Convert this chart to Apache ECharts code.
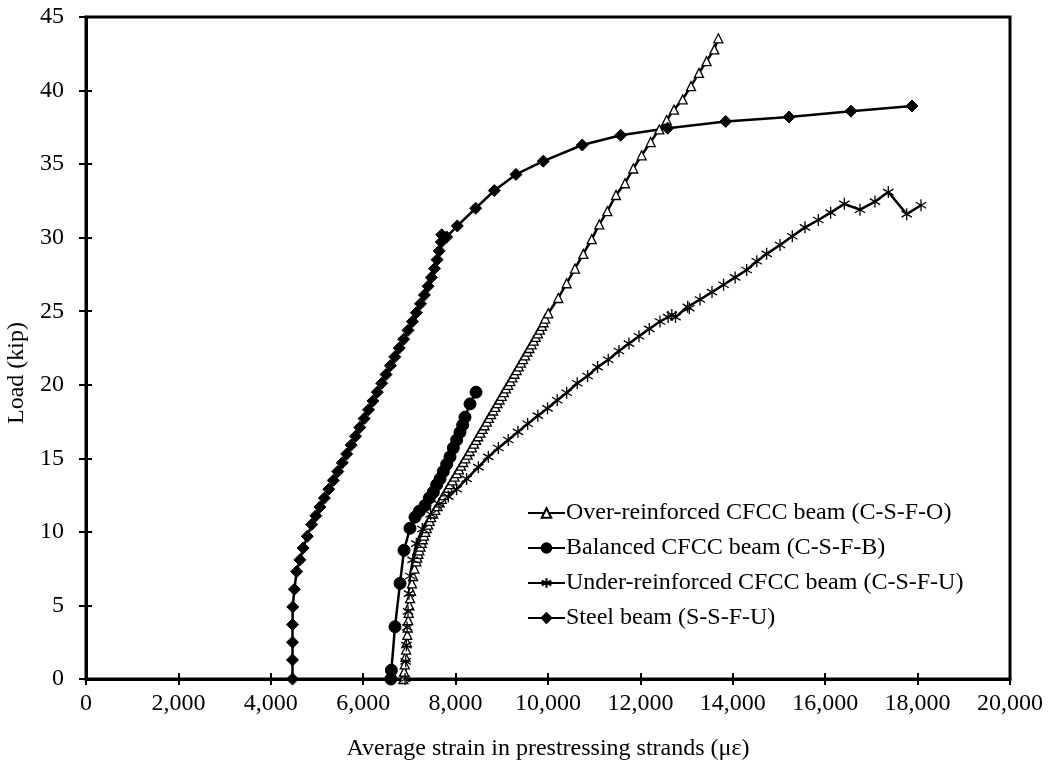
<!DOCTYPE html>
<html>
<head>
<meta charset="utf-8">
<script src="https://cdn.jsdelivr.net/npm/echarts@6/dist/echarts.min.js"></script>
<style>
  html, body { margin: 0; padding: 0; background: #fff; }
  #chart { width: 1050px; height: 766px; }
</style>
</head>
<body>
<div id="chart"></div>
<script>
// Load vs. average strain in prestressing strands, [strain (με), load (kip)]
const overReinforced = [
  [6870,0],[6885,0.5],[6900,1.0],[6915,1.5],[6930,2.0],[6945,2.5],[6955,3.0],[6965,3.5],
  [6975,4.0],[6985,4.5],[7000,5.0],[7015,5.5],[7035,6.0],[7055,6.5],[7080,7.0],[7110,7.5],
  [7150,8.0],[7170,8.25],[7195,8.5],[7215,8.75],[7240,9.0],[7265,9.25],[7290,9.5],[7315,9.75],
  [7345,10.0],[7375,10.25],[7405,10.5],[7438,10.75],[7470,11.0],[7515,11.25],[7560,11.5],[7610,11.75],
  [7655,12.0],[7700,12.25],[7745,12.5],[7790,12.75],[7838,13.0],[7885,13.25],[7930,13.5],[7978,13.75],
  [8025,14.0],[8072,14.25],[8118,14.5],[8165,14.75],[8212,15.0],[8260,15.25],[8305,15.5],[8352,15.75],
  [8398,16.0],[8445,16.25],[8490,16.5],[8535,16.75],[8582,17.0],[8628,17.25],[8675,17.5],[8720,17.75],
  [8768,18.0],[8815,18.25],[8860,18.5],[8905,18.75],[8952,19.0],[8998,19.25],[9045,19.5],[9090,19.75],
  [9138,20.0],[9185,20.25],[9230,20.5],[9275,20.75],[9322,21.0],[9368,21.25],[9415,21.5],[9460,21.75],
  [9505,22.0],[9552,22.25],[9598,22.5],[9645,22.75],[9690,23.0],[9735,23.25],[9780,23.5],[9825,23.75],
  [9870,24.0],[9905,24.25],[9940,24.5],[10006,24.86],[10223,25.9],[10404,26.9],[10584,27.9],[10764,28.9],
  [10946,29.9],[11110,30.9],[11284,31.8],[11472,32.9],[11667,33.7],[11846,34.7],[12027,35.6],
  [12222,36.5],[12409,37.36],[12568,38.0],[12727,38.7],[12915,39.4],[13095,40.3],[13268,41.2],
  [13433,42.0],[13600,42.8],[13686,43.55]
];
const balanced = [
  [6600,0],[6610,0.6],[6688,3.55],[6797,6.5],[6883,8.75],[7013,10.25],[7121,11.0],[7215,11.4],
  [7338,11.8],[7431,12.3],[7518,12.7],[7590,13.2],[7662,13.6],[7734,14.1],[7807,14.6],[7879,15.1],
  [7950,15.7],[8023,16.25],[8095,16.77],[8153,17.27],[8203,17.8],[8312,18.7],[8442,19.5]
];
const underReinforced = [
  [6905,0],[6920,1.2],[6935,2.3],[6950,3.5],[6970,4.6],[6990,5.8],[7020,7.0],[7070,8.1],
  [7150,9.2],[7280,10.2],[7460,11.2],[7640,11.9],[7843,12.4],[8023,12.9],[8239,13.6],[8492,14.4],
  [8708,15.1],[8925,15.7],[9140,16.25],[9350,16.8],[9560,17.35],[9780,17.9],[9990,18.4],[10200,18.95],
  [10404,19.46],[10633,20.1],[10857,20.6],[11073,21.2],[11304,21.7],[11536,22.3],[11752,22.8],
  [11969,23.3],[12192,23.8],[12424,24.3],[12600,24.6],[12680,24.75],[12760,24.6],[13023,25.3],
  [13060,25.2],[13290,25.8],[13550,26.3],[13800,26.8],[14050,27.3],[14300,27.8],[14520,28.4],
  [14733,28.9],[15022,29.5],[15288,30.1],[15563,30.7],[15851,31.2],[16118,31.7],[16414,32.3],
  [16753,31.9],[17077,32.45],[17366,33.1],[17764,31.6],[18074,32.2]
];
const steel = [
  [4470,0],[4470,1.3],[4470,2.5],[4470,3.7],[4475,4.9],[4510,6.1],[4560,7.3],[4630,8.1],
  [4700,8.9],[4790,9.7],[4885,10.5],[4975,11.1],[5065,11.7],[5160,12.3],[5255,12.9],[5353,13.5],
  [5450,14.1],[5547,14.7],[5643,15.3],[5740,15.9],[5835,16.5],[5925,17.1],[6020,17.7],[6115,18.3],
  [6210,18.9],[6305,19.5],[6400,20.1],[6495,20.7],[6590,21.3],[6685,21.9],[6780,22.5],[6875,23.1],
  [6970,23.7],[7065,24.3],[7150,24.9],[7240,25.5],[7325,26.1],[7405,26.7],[7475,27.3],[7545,27.9],
  [7600,28.5],[7645,29.1],[7690,29.7],[7700,30.2],[7807,30.05],[8037,30.8],[8434,32.0],[8838,33.2],
  [9307,34.3],[9898,35.2],[10742,36.3],[11572,36.96],[12590,37.44],[13846,37.9],[15217,38.2],
  [16558,38.6],[17879,38.95]
];

const seriesNames = [
  'Over-reinforced CFCC beam (C-S-F-O)',
  'Balanced CFCC beam (C-S-F-B)',
  'Under-reinforced CFCC beam (C-S-F-U)',
  'Steel beam (S-S-F-U)'
];
const xTitle = 'Average strain in prestressing strands (με)';
const yTitle = 'Load (kip)';

const FONT = '"Liberation Serif", "Times New Roman", serif';
const FS = 24;
const asteriskPath = 'path://M5,0L5,10M0.67,2.5L9.33,7.5M0.67,7.5L9.33,2.5';

const chart = echarts.init(document.getElementById('chart'), null, { renderer: 'canvas' });

function lineSeries(name, data, symbol, size, fill, bw) {
  return {
    name: name,
    type: 'line',
    xAxisIndex: 0,
    yAxisIndex: 0,
    data: data,
    symbol: symbol,
    symbolSize: size,
    symbolKeepAspect: true,
    showAllSymbol: true,
    smooth: false,
    animation: false,
    lineStyle: { color: '#000', width: 2.5 },
    itemStyle: { color: fill, borderColor: '#000', borderWidth: bw, opacity: 1 },
    emphasis: { disabled: true }
  };
}

const commaFmt = v => String(v).replace(/\B(?=(\d{3})+(?!\d))/g, ',');

chart.setOption({
  backgroundColor: '#fff',
  animation: false,
  textStyle: { fontFamily: FONT, color: '#000' },
  grid: {
    left: 86, top: 17, right: 40, bottom: 87,
    show: true, borderColor: '#000', borderWidth: 3, backgroundColor: 'transparent'
  },
  legend: {
    orient: 'vertical',
    left: 522,
    top: 496,
    itemWidth: 37,
    itemHeight: 12,
    itemGap: 11,
    data: seriesNames,
    textStyle: { fontFamily: FONT, fontSize: FS, color: '#000', padding: [0, 0, 0, -4] },
    selectedMode: false
  },
  xAxis: [
    {
      type: 'value', min: 0, max: 20000, interval: 2000, position: 'bottom',
      name: xTitle, nameLocation: 'middle', nameGap: 58,
      nameTextStyle: { fontFamily: FONT, fontSize: FS, color: '#000' },
      axisLine: { show: true, onZero: false, lineStyle: { color: '#000', width: 3 } },
      axisTick: { show: true, inside: false, length: 6, lineStyle: { color: '#000', width: 2 } },
      axisLabel: { fontFamily: FONT, fontSize: FS, color: '#000', margin: 13, formatter: commaFmt },
      splitLine: { show: false }
    },
    {
      type: 'value', min: 0, max: 20000, interval: 2000, position: 'bottom',
      axisLine: { show: false, onZero: false },
      axisTick: { show: true, inside: true, length: 6, lineStyle: { color: '#000', width: 2 } },
      axisLabel: { show: false },
      splitLine: { show: false }
    }
  ],
  yAxis: [
    {
      type: 'value', min: 0, max: 45, interval: 5, position: 'left',
      axisLine: { show: true, onZero: false, lineStyle: { color: '#000', width: 3 } },
      axisTick: { show: true, inside: false, length: 7, lineStyle: { color: '#000', width: 2 } },
      axisLabel: { fontFamily: FONT, fontSize: FS, color: '#000', margin: 22 },
      splitLine: { show: false }
    },
    {
      type: 'value', min: 0, max: 45, interval: 5, position: 'left',
      axisLine: { show: false, onZero: false },
      axisTick: { show: true, inside: true, length: 6, lineStyle: { color: '#000', width: 2 } },
      axisLabel: { show: false },
      splitLine: { show: false }
    }
  ],
  graphic: [
    {
      type: 'text',
      x: 5, y: 373,
      rotation: Math.PI / 2,
      style: {
        text: yTitle, fontFamily: FONT, fontSize: FS, fill: '#000',
        align: 'center', verticalAlign: 'top'
      }
    }
  ],
  series: [
    lineSeries(seriesNames[0], overReinforced, 'triangle', 9, '#fff', 1.3),
    lineSeries(seriesNames[1], balanced, 'circle', 12, '#000', 1),
    lineSeries(seriesNames[2], underReinforced, asteriskPath, 12, '#000', 1.3),
    lineSeries(seriesNames[3], steel, 'diamond', 12, '#000', 1)
  ]
});
</script>
</body>
</html>
